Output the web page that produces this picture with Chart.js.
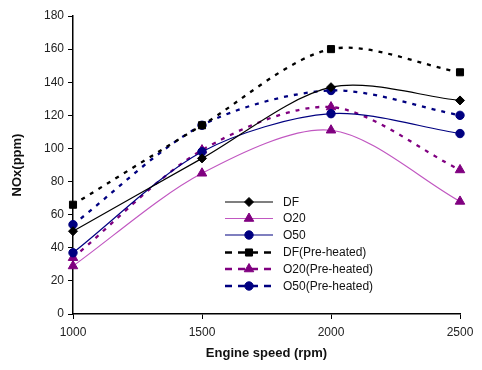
<!DOCTYPE html>
<html>
<head>
<meta charset="utf-8">
<script src="https://cdn.jsdelivr.net/npm/chart.js@4"></script>
<style>
html,body{margin:0;padding:0;background:#fff;}
#wrap{width:482px;height:370px;position:relative;}
</style>
</head>
<body>
<div id="wrap"><canvas id="c" width="482" height="370"></canvas></div>
<script>
const speeds = [1000, 1500, 2000, 2500];
const seriesNames = ["DF", "O20", "O50", "DF(Pre-heated)", "O20(Pre-heated)", "O50(Pre-heated)"];
const dfValues = [50, 94, 137, 129];
const o20Values = [29, 85, 111, 68];
const o50Values = [37, 98, 121, 109];
const dfPreValues = [66, 114, 160, 146];
const o20PreValues = [34, 99, 125, 87];
const o50PreValues = [54, 114, 135, 120];
const xTicks = [1000, 1500, 2000, 2500];
const yTicks = [0, 20, 40, 60, 80, 100, 120, 140, 160, 180];

const pts = v => speeds.map((s, i) => ({x: s, y: v[i]}));

const styles = [
  {line:'#000000', pt:'#000000', style:'rectRot', r:4.5, dash:[], w:1.2},
  {line:'#C157C1', pt:'#800080', style:'triangle', r:5.5, dash:[], w:1.2},
  {line:'#000080', pt:'#000080', style:'circle', r:4.2, dash:[], w:1.2},
  {line:'#000000', pt:'#000000', style:'rect', r:5, dash:[4,6], w:2.3},
  {line:'#800080', pt:'#800080', style:'triangle', r:5.5, dash:[4,6], w:2.3},
  {line:'#000080', pt:'#000080', style:'circle', r:4.2, dash:[4,6], w:2.3}
];
const values = [dfValues, o20Values, o50Values, dfPreValues, o20PreValues, o50PreValues];

const datasets = values.map((v, i) => ({
  label: seriesNames[i],
  data: pts(v),
  borderColor: styles[i].line,
  backgroundColor: styles[i].pt,
  pointBackgroundColor: styles[i].pt,
  pointBorderColor: styles[i].pt,
  pointBorderWidth: 1,
  pointStyle: styles[i].style,
  pointRadius: styles[i].r,
  borderWidth: styles[i].w,
  borderDash: styles[i].dash,
  tension: 0.3,
  clip: false,
  fill: false
}));

const legendPlugin = {
  id: 'innerLegend',
  afterDraw(chart) {
    const ctx = chart.ctx;
    const x0 = 225, x1 = 273, tx = 283;
    const rows = [202, 218.5, 235, 252.5, 269, 286];
    ctx.save();
    chart.data.datasets.forEach((ds, i) => {
      const y = rows[i];
      ctx.strokeStyle = ds.borderColor;
      ctx.lineWidth = ds.borderWidth;
      ctx.setLineDash(ds.borderDash.length ? [7,6] : []);
      ctx.beginPath();
      ctx.moveTo(x0, y);
      ctx.lineTo(x1, y);
      ctx.stroke();
      ctx.setLineDash([]);
      ctx.fillStyle = ds.pointBackgroundColor;
      ctx.strokeStyle = ds.pointBorderColor;
      ctx.lineWidth = 1;
      Chart.helpers.drawPoint(ctx, {
        pointStyle: ds.pointStyle, radius: ds.pointRadius, rotation: 0, borderWidth: 1
      }, (x0 + x1) / 2, y);
      ctx.fillStyle = '#111';
      ctx.font = '12px "Liberation Sans", Arial, sans-serif';
      ctx.textAlign = 'left';
      ctx.textBaseline = 'middle';
      ctx.fillText(ds.label, tx, y + 0.5);
    });
    ctx.restore();
  }
};

const font = {family: '"Liberation Sans", Arial, sans-serif', size: 12};

new Chart(document.getElementById('c'), {
  type: 'line',
  data: {datasets},
  plugins: [legendPlugin],
  options: {
    responsive: false,
    animation: false,
    layout: {padding: {top: 16, right: 22, left: 6, bottom: 9}},
    plugins: {legend: {display: false}, tooltip: {enabled: false}},
    scales: {
      x: {
        type: 'linear', min: 1000, max: 2500,
        afterBuildTicks: s => { s.ticks = xTicks.map(v => ({value: v})); },
        afterFit: s => { s.height = 47; },
        grid: {display: true, drawOnChartArea: false, tickLength: 5, tickColor: '#000', lineWidth: 1},
        border: {color: '#000', width: 1.5},
        ticks: {color: '#222', font, padding: 6, maxRotation: 0, callback: v => String(v)},
        title: {display: true, text: 'Engine speed (rpm)', color: '#111',
          font: {family: font.family, size: 13, weight: 'bold'}, padding: {top: 2, bottom: 0}}
      },
      y: {
        min: 0, max: 180,
        afterBuildTicks: s => { s.ticks = yTicks.map(v => ({value: v})); },
        afterFit: s => { s.width = 67; },
        grid: {display: true, drawOnChartArea: false, tickLength: 5, tickColor: '#000', lineWidth: 1},
        border: {color: '#000', width: 1.5},
        ticks: {color: '#222', font, padding: 4, callback: v => String(v)},
        title: {display: true, text: 'NOx(ppm)', color: '#111',
          font: {family: font.family, size: 13, weight: 'bold'}, padding: {bottom: 2}}
      }
    }
  }
});
</script>
</body>
</html>
